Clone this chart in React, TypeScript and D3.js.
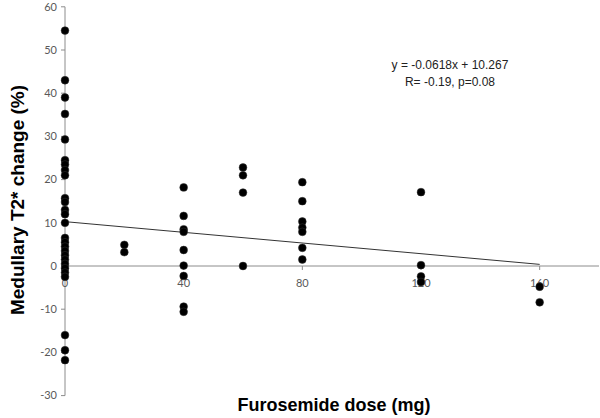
import React from "react";
import * as d3 from "d3";

const dose0 = [54.5, 43, 39, 35.2, 29.3, 24.5, 23.5, 22.2, 21, 15.7, 14.8, 13, 12, 10, 6.5, 5.5, 4.5, 3.5, 2.5, 1.5, 0.5, -0.5, -1.5, -2.5, -16, -19.5, -21.8];
const dose20 = [4.9, 3.2];
const dose40 = [18.2, 11.6, 8.5, 7.9, 3.7, 0.1, -2.3, -9.4, -10.6];
const dose60 = [22.8, 21, 17, 0];
const dose80 = [19.4, 15, 10.3, 8.9, 7.9, 4.2, 1.5];
const dose120 = [17.1, 0.2, -2.4, -3.7];
const dose160 = [-4.8, -8.4];

const groups: [number, number[]][] = [
  [0, dose0], [20, dose20], [40, dose40], [60, dose60], [80, dose80], [120, dose120], [160, dose160],
];

const xTicks = [0, 40, 80, 120, 160];
const yTicks = [60, 50, 40, 30, 20, 10, 0, -10, -20, -30];
const slope = -0.0618;
const intercept = 10.267;

export default function App() {
  const W = 600, H = 418;
  const x = d3.scaleLinear().domain([0, 180]).range([65, 599]);
  const y = d3.scaleLinear().domain([-30, 60]).range([395.6, 6.8]);
  const points = groups.flatMap(([d, vals]) => vals.map((v) => ({ d, v })));
  const line = d3.line<number>().x((d) => x(d)).y((d) => y(slope * d + intercept));
  const axisColor = "#8c8c8c";
  const labelColor = "#595959";
  const tickFont = "Lato, 'Open Sans', sans-serif";
  return (
    <svg width={W} height={H} style={{ position: "absolute", left: 0, top: 0, background: "#fff" }}>
      <rect width={W} height={H} fill="#fff" />
      {/* y axis */}
      <line x1={x(0)} x2={x(0)} y1={y(60)} y2={y(-30)} stroke={axisColor} strokeWidth={1} />
      {yTicks.map((t) => (
        <g key={"y" + t}>
          <line x1={x(0) - 4} x2={x(0)} y1={y(t)} y2={y(t)} stroke={axisColor} />
          <text x={57} y={y(t)} dy="0.35em" textAnchor="end" fontSize={11} fill={labelColor} fontFamily={tickFont}>{t}</text>
        </g>
      ))}
      {/* x axis */}
      <line x1={x(0)} x2={x(180)} y1={y(0)} y2={y(0)} stroke={axisColor} strokeWidth={1} />
      {xTicks.map((t) => (
        <g key={"x" + t}>
          <line x1={x(t)} x2={x(t)} y1={y(0)} y2={y(0) + 4} stroke={axisColor} />
          <text x={x(t)} y={283} dy="0.35em" textAnchor="middle" fontSize={11} fill={labelColor} fontFamily={tickFont}>{t}</text>
        </g>
      ))}
      {/* trend line */}
      <path d={line([0, 160]) || ""} stroke="#333" strokeWidth={1} fill="none" />
      {/* points */}
      {points.map((p, i) => (
        <circle key={i} cx={x(p.d)} cy={y(p.v)} r={3.9} fill="#000" stroke="#333" strokeWidth={0.5} />
      ))}
      {/* annotation */}
      <text x={450} y={65} dy="0.35em" textAnchor="middle" fontSize={12} fill="#222" fontFamily="Arial, 'Liberation Sans', sans-serif">y = -0.0618x + 10.267</text>
      <text x={450} y={82} dy="0.35em" textAnchor="middle" fontSize={12} fill="#222" fontFamily="Arial, 'Liberation Sans', sans-serif">R= -0.19, p=0.08</text>
      {/* axis titles */}
      <text x={334} y={405} dy="0.35em" textAnchor="middle" fontSize={18} fontWeight="bold" fill="#000" fontFamily="Arial, 'Liberation Sans', sans-serif">Furosemide dose (mg)</text>
      <text transform={`translate(17,200) rotate(-90)`} dy="0.35em" textAnchor="middle" fontSize={19} fontWeight="bold" fill="#000" fontFamily="Arial, 'Liberation Sans', sans-serif">Medullary T2* change (%)</text>
    </svg>
  );
}
